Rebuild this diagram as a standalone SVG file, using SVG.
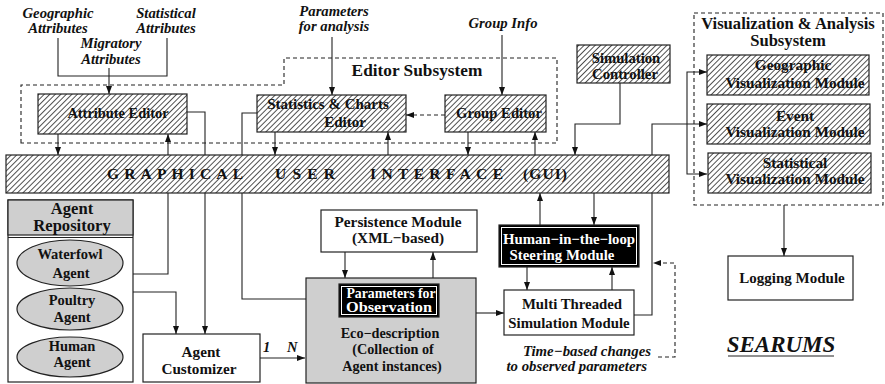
<svg xmlns="http://www.w3.org/2000/svg" width="885" height="384" viewBox="0 0 885 384">
<defs>
<pattern id="hatch" patternUnits="userSpaceOnUse" width="3.9" height="3.9" patternTransform="rotate(45)">
<rect width="3.9" height="3.9" fill="#fff"/>
<line x1="0.5" y1="0" x2="0.5" y2="3.9" stroke="#333" stroke-width="0.85"/>
</pattern>
<marker id="arr" markerUnits="userSpaceOnUse" markerWidth="9" markerHeight="7" refX="8" refY="3" orient="auto">
<path d="M0,0 L8,3 L0,6 Z" fill="#111"/>
</marker>
</defs>
<style>
text{font-family:"Liberation Serif","Times New Roman",serif;font-weight:bold;fill:#111}
.it{font-style:italic}
.c{text-anchor:middle}
.w{fill:#fff}
.box{fill:#fff;stroke:#222;stroke-width:1.2}
.hb{fill:url(#hatch);stroke:#222;stroke-width:1.2}
.blk{fill:#000;stroke:#222;stroke-width:1.2}
.inner{fill:none;stroke:#fff;stroke-width:1}
.gray{fill:#cfcfcf;stroke:#222;stroke-width:1.2}
.ln{fill:none;stroke:#222;stroke-width:1.1}
.ar{fill:none;stroke:#222;stroke-width:1.1;marker-end:url(#arr)}
.da{fill:none;stroke:#222;stroke-width:1.1;stroke-dasharray:4,3}
.sub{fill:none;stroke:#222;stroke-width:1.1;stroke-dasharray:4,3}
</style>

<g id="connectors">
<path class="ln" d="M58,38 V76 H167 V38"/>
<path class="ar" d="M109,68 V94"/>
<path class="ar" d="M332,37 V95"/>
<path class="ar" d="M502,35 V95"/>
<path class="ar" d="M58,134 V155"/>
<path class="ar" d="M133,274 H168 V134"/>
<path class="ar" d="M187,112 H205 V334"/>
<path class="ar" d="M257,113 H242 V299 H339"/>
<path class="ar" d="M275,132 V155"/>
<path class="ar" d="M388,155 V132"/>
<path class="da" marker-end="url(#arr)" d="M445,115 H406"/>
<path class="ar" d="M468,132 V155"/>
<path class="ar" d="M535,155 V132"/>
<path class="ar" d="M620,83 V124 H575 V155"/>
<path class="ar" d="M634,315 H652 V124 H707"/>
<path class="ar" d="M687,124 V72 H707"/>
<path class="ar" d="M687,124 V174 H707"/>
<path class="ar" d="M784,205 V256"/>
<path class="ar" d="M133,292 H176 V334"/>
<path class="ar" d="M260,358 H305"/>
<path class="ar" d="M345,252 V278"/>
<path class="ar" d="M433,278 V252"/>
<path class="ar" d="M476,313 H504"/>
<path class="ar" d="M540,225 V193"/>
<path class="ar" d="M594,193 V225"/>
<path class="ar" d="M527,267 V290"/>
<path class="ar" d="M612,290 V267"/>
<path class="da" marker-end="url(#arr)" d="M658,357 H675 V263 H653"/>
</g>

<g id="labels">
<text class="it c" font-size="14.7" x="58" y="18">Geographic</text>
<text class="it c" font-size="14.7" x="58" y="33">Attributes</text>
<text class="it c" font-size="14.7" x="166" y="18">Statistical</text>
<text class="it c" font-size="14.7" x="166" y="33">Attributes</text>
<text class="it c" font-size="14.7" x="111" y="48">Migratory</text>
<text class="it c" font-size="14.7" x="111" y="64">Attributes</text>
<text class="it c" font-size="14.7" x="334" y="16">Parameters</text>
<text class="it c" font-size="14.7" x="334" y="31">for analysis</text>
<text class="it c" font-size="14.7" x="503" y="28">Group Info</text>
<text class="it" font-size="14.8" x="651" y="356" text-anchor="end">Time−based changes</text>
<text class="it" font-size="14.8" x="647" y="371" text-anchor="end">to observed parameters</text>
<text class="it" font-size="14.5" x="263" y="352">1</text>
<text class="it" font-size="14.5" x="287" y="352">N</text>
</g>

<g id="editor-subsystem">
<path class="sub" d="M21,143 V85 H284 V58 H557 V143 Z"/>
<text class="c" font-size="17.3" x="417" y="76">Editor Subsystem</text>
</g>

<g id="attribute-editor">
<rect class="hb" x="38" y="94" width="149" height="40"/>
<text class="c" font-size="14.4" x="118" y="118">Attribute Editor</text>
</g>

<g id="stats-charts-editor">
<rect class="hb" x="257" y="95" width="149" height="37"/>
<text class="c" font-size="15" x="328" y="109">Statistics &amp; Charts</text>
<text class="c" font-size="15" x="345" y="127">Editor</text>
</g>

<g id="group-editor">
<rect class="hb" x="445" y="95" width="101" height="37"/>
<text class="c" font-size="14.7" x="499" y="118">Group Editor</text>
</g>

<g id="simulation-controller">
<rect class="hb" x="577" y="45" width="93" height="38"/>
<text class="c" font-size="14.7" x="626" y="63">Simulation</text>
<text class="c" font-size="14.7" x="625" y="79">Controller</text>
</g>

<g id="gui">
<rect class="hb" x="6" y="155" width="663" height="38"/>
<text font-size="15.5" x="107" y="179" textLength="136" lengthAdjust="spacing">GRAPHICAL</text>
<text font-size="15.5" x="275" y="179" textLength="60" lengthAdjust="spacing">USER</text>
<text font-size="15.5" x="370" y="179" textLength="133" lengthAdjust="spacing">INTERFACE</text>
<text font-size="15.5" x="523" y="179" textLength="44" lengthAdjust="spacing">(GUI)</text>
</g>

<g id="vis-subsystem">
<rect class="sub" x="694" y="13" width="189" height="192"/>
<text class="c" font-size="16.6" x="788" y="29">Visualization &amp; Analysis</text>
<text class="c" font-size="16.6" x="788" y="46">Subsystem</text>
</g>

<g id="geo-vis">
<rect class="hb" x="707" y="55" width="162" height="40"/>
<text class="c" font-size="15.3" x="793" y="70">Geographic</text>
<text class="c" font-size="15.3" x="795" y="88">Visualization Module</text>
</g>

<g id="event-vis">
<rect class="hb" x="707" y="104" width="163" height="40"/>
<text class="c" font-size="15.3" x="795" y="121">Event</text>
<text class="c" font-size="15.3" x="795" y="137">Visualization Module</text>
</g>

<g id="stat-vis">
<rect class="hb" x="708" y="153" width="163" height="40"/>
<text class="c" font-size="15.3" x="795" y="168">Statistical</text>
<text class="c" font-size="15.3" x="795" y="184">Visualization Module</text>
</g>

<g id="logging">
<rect class="box" x="728" y="256" width="125" height="44"/>
<text class="c" font-size="15" x="792" y="283">Logging Module</text>
</g>

<g id="searums">
<text class="it c" font-size="23" x="781" y="352">SEARUMS</text>
<line x1="728" y1="356" x2="834" y2="356" stroke="#222" stroke-width="1.2"/>
</g>

<g id="agent-repository">
<rect class="box" x="8" y="200" width="125" height="182"/>
<rect class="gray" x="8" y="200" width="125" height="35"/>
<line x1="8" y1="237.5" x2="133" y2="237.5" stroke="#222" stroke-width="1"/>
<text class="c" font-size="16.6" x="72" y="214">Agent</text>
<text class="c" font-size="16.6" x="72" y="231">Repository</text>
</g>

<g id="waterfowl-agent">
<ellipse class="gray" cx="70" cy="263" rx="53" ry="23"/>
<text class="c" font-size="14.5" x="70" y="259">Waterfowl</text>
<text class="c" font-size="14.5" x="71" y="278">Agent</text>
</g>

<g id="poultry-agent">
<ellipse class="gray" cx="70" cy="309" rx="53" ry="21"/>
<text class="c" font-size="14.5" x="72" y="305">Poultry</text>
<text class="c" font-size="14.5" x="72" y="322">Agent</text>
</g>

<g id="human-agent">
<ellipse class="gray" cx="70" cy="357" rx="53" ry="20"/>
<text class="c" font-size="14.5" x="72" y="351">Human</text>
<text class="c" font-size="14.5" x="72" y="367">Agent</text>
</g>

<g id="agent-customizer">
<rect class="box" x="143" y="334" width="117" height="48"/>
<text class="c" font-size="15.2" x="201" y="357">Agent</text>
<text class="c" font-size="15.2" x="199" y="374">Customizer</text>
</g>

<g id="persistence">
<rect class="box" x="321" y="210" width="156" height="42"/>
<text class="c" font-size="15.3" x="398" y="227">Persistence Module</text>
<text class="c" font-size="15.3" x="398" y="243">(XML−based)</text>
</g>

<g id="eco-description">
<rect class="gray" x="306" y="278" width="170" height="105"/>
<text class="c" font-size="14.2" x="390" y="338">Eco−description</text>
<text class="c" font-size="14.2" x="393" y="354">(Collection of</text>
<text class="c" font-size="14.2" x="392" y="371">Agent instances)</text>
</g>

<g id="params-observation">
<rect class="blk" x="339" y="284" width="100" height="33"/>
<rect class="inner" x="341.5" y="286.5" width="95" height="28"/>
<text class="c w" font-size="13.8" x="391" y="298">Parameters for</text>
<text class="w" font-size="13.8" x="346" y="312" textLength="86" lengthAdjust="spacingAndGlyphs">Observation</text>
</g>

<g id="human-in-the-loop">
<rect class="blk" x="499" y="225" width="140" height="42"/>
<rect class="inner" x="501.5" y="227.5" width="135" height="37"/>
<text class="c w" font-size="14.8" x="569" y="244">Human−in−the−loop</text>
<text class="c w" font-size="14.8" x="562" y="260">Steering Module</text>
</g>

<g id="multi-threaded">
<rect class="box" x="504" y="290" width="130" height="45"/>
<text class="c" font-size="14.8" x="572" y="309">Multi Threaded</text>
<text class="c" font-size="14.8" x="569" y="328">Simulation Module</text>
</g>
</svg>
